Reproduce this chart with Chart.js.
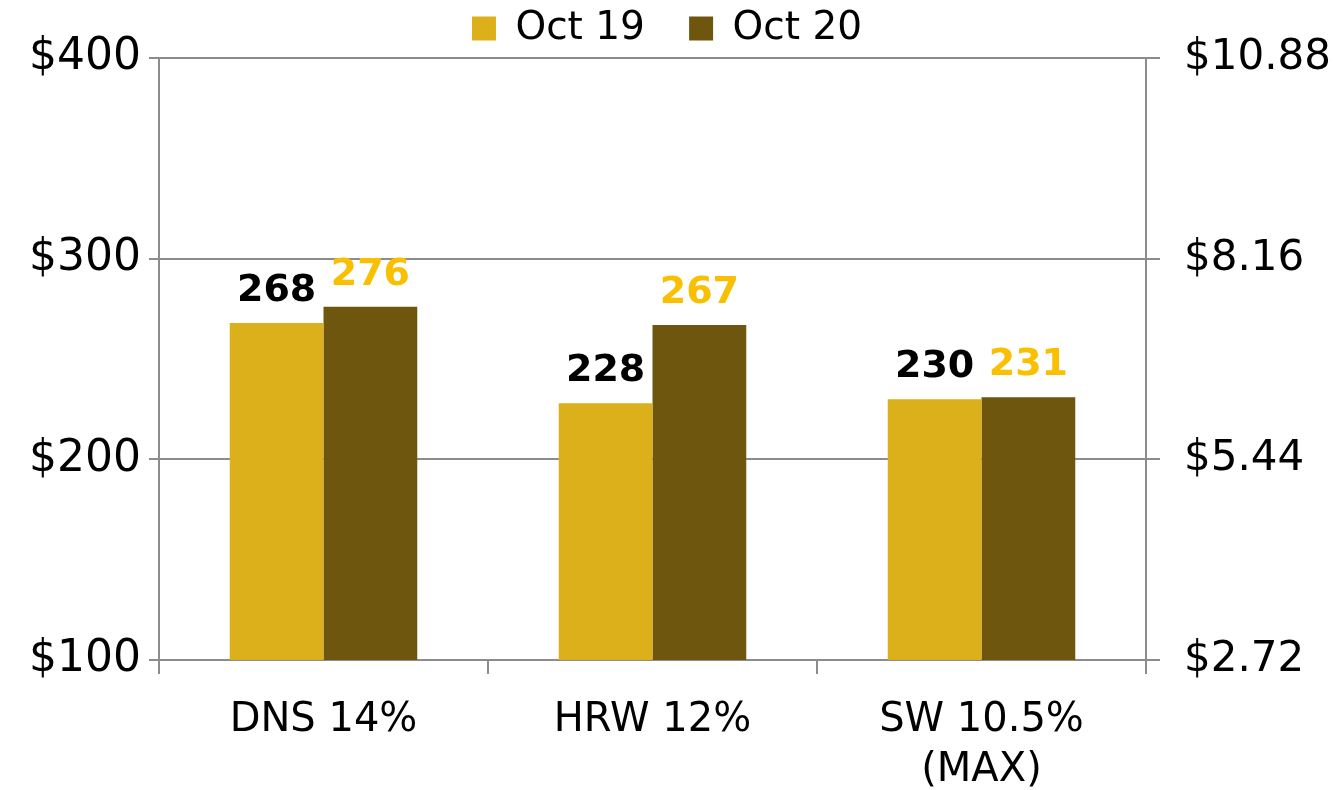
<!DOCTYPE html>
<html>
<head>
<meta charset="utf-8">
<script src="https://cdn.jsdelivr.net/npm/chart.js@4"></script>
<style>
  body { margin: 0; background: #fff; }
  #wrap { width: 1334px; height: 790px; }
</style>
</head>
<body>
<div id="wrap"><canvas id="wheatChart"></canvas></div>
<script>
// ====================== DATA ======================
const categories = ["DNS 14%", "HRW 12%", ["SW 10.5%", "(MAX)"]];
const oct19 = [268, 228, 230];
const oct20 = [276, 267, 231];
const leftTicks = [100, 200, 300, 400];
const rightTicks = ["$2.72", "$5.44", "$8.16", "$10.88"];

const FONT = "'DejaVu Sans', sans-serif";
const gridGray = "#8c8c8c";

// Draw the value over each bar
const barLabels = {
    id: "barLabels",
    afterDatasetsDraw(chart) {
        const ctx = chart.ctx;
        ctx.save();
        ctx.font = "bold 38px " + FONT;
        ctx.textAlign = "center";
        ctx.textBaseline = "alphabetic";
        chart.data.datasets.forEach((ds, i) => {
            const meta = chart.getDatasetMeta(i);
            ctx.fillStyle = ds.labelColor;
            meta.data.forEach((bar, j) => {
                ctx.fillText(ds.data[j], bar.x, bar.y - 22);
            });
        });
        ctx.restore();
    }
};

const ctx = document.getElementById("wheatChart").getContext("2d");
new Chart(ctx, {
    type: "bar",
    data: {
        labels: categories,
        datasets: [
            { label: "Oct 19", data: oct19, backgroundColor: "#dcb01a", labelColor: "#000000" },
            { label: "Oct 20", data: oct20, backgroundColor: "#6e560e", labelColor: "#f8c000" }
        ]
    },
    options: {
        responsive: true,
        maintainAspectRatio: false,
        animation: false,
        categoryPercentage: 0.57,
        barPercentage: 1.0,
        layout: { padding: { top: 2, right: 0, left: 0, bottom: 0 } },
        plugins: {
            legend: {
                display: true,
                position: "top",
                labels: {
                    boxWidth: 24,
                    boxHeight: 24,
                    padding: 7,
                    color: "#000",
                    font: { family: FONT, size: 39 },
                    // widen the gap between the two legend entries
                    generateLabels: chart => {
                        const items = Chart.defaults.plugins.legend.labels.generateLabels(chart);
                        items.forEach((it, i) => { if (i < items.length - 1) it.text += "   "; });
                        return items;
                    }
                }
            },
            tooltip: { enabled: false }
        },
        scales: {
            x: {
                grid: { offset: true, drawOnChartArea: false, tickLength: 14, color: gridGray, lineWidth: 2 },
                border: { color: gridGray, width: 2 },
                ticks: { color: "#000", font: { family: FONT, size: 40, lineHeight: 1.25 }, padding: 22 },
                afterFit: s => { s.height = 130; }
            },
            y: {
                position: "left",
                min: 100,
                max: 400,
                afterBuildTicks: s => { s.ticks = leftTicks.map(v => ({ value: v })); },
                grid: { color: gridGray, lineWidth: 2, tickLength: 10 },
                border: { color: gridGray, width: 2 },
                ticks: { color: "#000", font: { family: FONT, size: 44 }, padding: 8, callback: v => "$" + v },
                afterFit: s => { s.width = 159; }
            },
            y2: {
                position: "right",
                min: 100,
                max: 400,
                afterBuildTicks: s => { s.ticks = leftTicks.map(v => ({ value: v })); },
                grid: { drawOnChartArea: false, color: gridGray, lineWidth: 2, tickLength: 14 },
                border: { color: gridGray, width: 2 },
                ticks: { color: "#000", font: { family: FONT, size: 42 }, padding: 24, callback: (v, i) => rightTicks[i] },
                afterFit: s => { s.width = 188; }
            }
        }
    },
    plugins: [barLabels]
});
</script>
</body>
</html>
